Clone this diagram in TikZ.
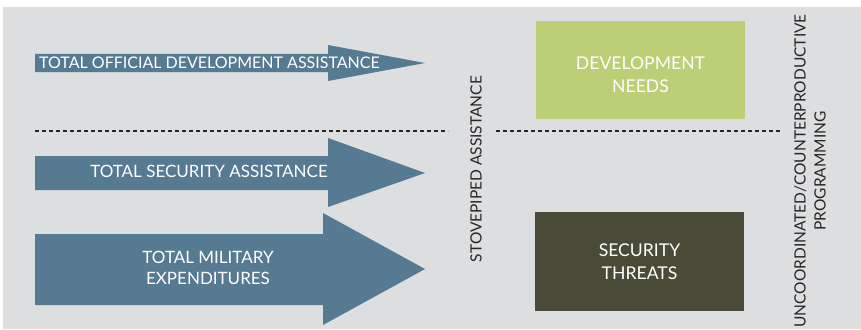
\documentclass[tikz,border=0pt]{standalone}
\usepackage{fontspec}
\setmainfont{Lato}
\usepackage{tikz}
\usetikzlibrary{calc}
\definecolor{bggray}{HTML}{DDDEE0}
\definecolor{flowblue}{HTML}{577A93}
\definecolor{needgreen}{HTML}{BBCF76}
\definecolor{threatolive}{HTML}{4A4A38}
\definecolor{labelgray}{HTML}{262626}

\begin{document}
\begin{tikzpicture}[x=1pt, y=-1pt]
				    \tikzstyle{flow}=[fill=flowblue]
				    \tikzstyle{flowtext}=[text=white, font=\fontsize{17}{21}\selectfont, align=center, inner sep=0pt]
				    \tikzstyle{boxtext}=[text=white, font=\fontsize{17.6}{23}\selectfont, align=center, inner sep=0pt]
				    \tikzstyle{sidetext}=[text=labelgray, font=\fontsize{15.5}{20}\selectfont, align=center, inner sep=0pt, rotate=90]
				    \tikzstyle{divider}=[draw, line width=2pt, black!85, dash pattern=on 4pt off 3pt]
				    \useasboundingbox (0,0) rectangle (861,329);
				    \fill[white] (0,0) rectangle (861,329);
				    \fill[bggray] (3,7) rectangle (861,329);
				    % flows
				    \fill[flow] (35,54) -- (328,54) -- (328,45) -- (425,63) -- (328,81) -- (328,72) -- (35,72) -- cycle;
				    \fill[flow] (35,156) -- (328,156) -- (328,138) -- (425,173) -- (328,207) -- (328,190) -- (35,190) -- cycle;
				    \fill[flow] (35,234) -- (323,234) -- (323,213) -- (425,269) -- (323,325) -- (323,305) -- (35,305) -- cycle;
				    \node[flowtext, font=\fontsize{16}{21}\selectfont, anchor=west] (oda) at (39,63) {TOTAL OFFICIAL DEVELOPMENT ASSISTANCE};
				    \node[flowtext] (sec) at (209,171) {TOTAL SECURITY ASSISTANCE};
				    \node[flowtext] (mil) at (208,268) {TOTAL MILITARY\\EXPENDITURES};
				    % boxes
				    \node[fill=needgreen, minimum width=209pt, minimum height=98pt, inner sep=0pt] (needs) at (640.5,70) {};
				    \node[boxtext] (needstext) at (640.5,75) {DEVELOPMENT\\NEEDS};
				    \node[fill=threatolive, minimum width=209pt, minimum height=99pt, inner sep=0pt] (threats) at (639.5,261.5) {};
				    \node[boxtext] (threatstext) at (threats) {SECURITY\\THREATS};
				    % side labels
				    \node[sidetext] (stove) at (476,169) {STOVEPIPED ASSISTANCE};
				    \node[sidetext] (uncoord) at (810,171) {UNCOORDINATED/COUNTERPRODUCTIVE\\PROGRAMMING};
				    % dividers
				    \coordinate (dl1) at (35,131);
				    \coordinate (dl2) at (448,131);
				    \coordinate (dr1) at (496,131);
				    \coordinate (dr2) at (780,131);
				    \draw[divider] (dl1) -- (dl2);
				    \draw[divider] (dr1) -- (dr2);
				\end{tikzpicture}
\end{document}
